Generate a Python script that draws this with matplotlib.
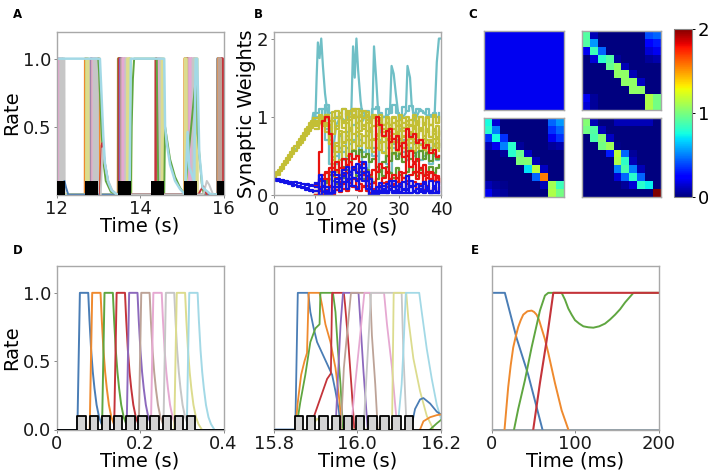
import numpy as np
import matplotlib
matplotlib.use("Agg")
import matplotlib.pyplot as plt

W, H = 708, 476
COLORS = ["#4a7db5", "#ef8a2e", "#5fa640", "#c4343a", "#8c69bd",
          "#bda397", "#e6a9d2", "#c6c6c6", "#dcdc8e", "#a3d9e6"]

# ---- Panel A
A_stim_on = [12.0, 12.68, 13.47, 14.26, 15.05, 15.85]
A_stim_off = [12.2, 13.0, 13.78, 14.58, 15.36, 16.0]
A_pulses = [
    [(15.86, 15.88), (15.92, 15.95)],
    [(12.69, 12.72), (13.0, 13.02), (13.48, 13.51), (15.07, 15.09), (15.87, 15.90)],
    [(12.72, 12.74), (13.49, 13.51), (15.09, 15.11)],
    [(13.50, 13.53), (14.38, 14.40), (15.12, 15.14), (15.95, 15.98)],
    [(12.0, 12.02), (12.82, 12.85), (13.53, 13.55)],
    [(12.03, 12.06), (12.85, 12.88), (13.56, 13.59), (14.44, 14.46), (15.16, 15.19), (15.89, 15.93)],
    [(12.02, 12.05), (12.07, 12.10), (12.87, 12.90), (12.92, 12.95), (13.59, 13.62), (13.64, 13.67),
     (14.46, 14.49), (15.19, 15.22), (15.24, 15.27)],
    [(12.10, 12.13), (12.15, 12.18), (12.90, 12.93), (12.95, 12.98), (13.66, 13.69), (14.49, 14.52),
     (15.27, 15.30), (15.31, 15.34)],
    [(12.72, 12.76), (13.70, 13.73), (13.75, 13.78), (14.53, 14.56), (15.08, 15.11), (15.33, 15.37)],
    [],
]
A_blue_tail_t = [12.0, 12.19, 12.23, 12.28, 16.0]
A_blue_tail_y = [0, 0.1, 0.05, 0, 0]
A_green_t = [13.0, 13.02, 13.04, 13.08, 13.12, 13.18, 13.3, 13.45, 13.78, 13.80, 13.83, 13.86, 14.4, 14.44,
             14.58, 14.60, 14.64, 14.72, 14.84, 14.96, 15.07, 15.35, 15.38, 15.42, 15.48, 15.53]
A_green_y = [1, 0.9, 0.75, 0.45, 0.25, 0.1, 0.02, 0, 0, 0.5, 0.85, 1, 1, 0,
             0, 0.5, 0.42, 0.26, 0.13, 0.05, 0, 0.9, 0.45, 0.3, 0.08, 0]
A_red_t = [13.04, 13.08, 13.10, 13.16, 13.24, 13.32, 13.44, 15.4, 15.45, 15.52, 15.6]
A_red_y = [0, 0.36, 0.38, 0.23, 0.09, 0.03, 0, 0, 0.03, 0.06, 0]
A_grey_t = [13.06, 13.10, 13.16, 13.24, 13.34, 13.46, 15.52, 15.6, 15.66, 15.75]
A_grey_y = [0, 0.34, 0.22, 0.1, 0.03, 0, 0, 0.1, 0.07, 0]
A_cyan_t = [12, 13.04, 13.08, 13.12, 13.16, 13.24, 13.32, 13.44, 13.75, 13.78, 14.38, 14.42, 14.52, 14.58,
            14.60, 14.64, 14.72, 14.84, 14.96, 15.08, 15.14, 15.18, 15.30, 15.33, 15.37, 15.42, 15.5, 15.7, 16]
A_cyan_y = [1, 1, 0.72, 0.43, 0.23, 0.09, 0.03, 0, 0, 1, 1, 1, 1, 1,
            0.5, 0.38, 0.22, 0.1, 0.04, 0, 0.46, 0.2, 0.1, 1, 1, 0.3, 0.05, 0, 0]

# ---- Panel B
B_ramp_t = [0, .5, 1, 1.5, 2, 2.5, 3, 3.5, 4, 4.5, 5, 5.5, 6, 6.5, 7, 7.5, 8, 8.5, 9, 9.5]
B_time_late = [10, 10.8, 11.6, 12.4, 13.2, 14, 14.8, 15.6, 16.4, 17.2, 18, 18.8, 19.6, 20.4, 21.2, 22, 22.8, 23.6,
               24.4, 25.2, 26, 26.8, 27.6, 28.4, 29.2, 30, 30.8, 31.6, 32.4, 33.2, 34, 34.8, 35.6, 36.4, 37.2, 38,
               38.8, 39.6]
B_olive_ramp1 = [.22, .29, .26, .36, .33, .44, .41, .51, .48, .6, .56, .68, .64, .76, .7, .84, .78, .92, .86, .98]
B_olive_ramp2 = [.24, .25, .32, .31, .4, .38, .47, .45, .55, .52, .63, .6, .71, .67, .79, .75, .87, .82, .95, .9]
B_blue_ramp1 = [.2, .18, .19, .165, .175, .15, .16, .135, .145, .12, .13, .1, .115, .085, .1, .07, .085, .055, .07, .04]
B_blue_ramp2 = [.21, .2, .2, .185, .19, .175, .18, .165, .17, .155, .16, .15, .15, .14, .145, .13, .135, .12, .13, .11]
B_teal_main_t = [0, 8.5, 9, 9.5, 10, 10.3, 10.6, 11, 11.4, 11.8, 12.3, 13, 13.6, 14.2, 15, 16, 17, 18, 18.6,
                 19, 19.4, 19.8, 20.2, 20.8, 21.4, 22, 23, 23.6, 24, 24.5, 25, 25.6, 26, 27, 27.8, 28.2,
                 28.7, 29.2, 30, 31, 31.6, 32, 32.6, 33, 33.8, 35, 36, 37, 38, 38.5, 39, 39.5, 40]
B_teal_main_y = [.2, .82, .85, 1.05, .95, 1.5, 1.95, 1.75, 2.0, 1.65, 1.3, 1.0, .85, .55, .9, 1.0, .95, 1.0, 1.1,
                 1.9, 1.5, 2.0, 1.6, 1.2, .95, 1.05, .95, 1.0, 1.9, 1.5, 1.05, .8, 1.0, 1.0, 1.05, 1.65,
                 1.55, 1.3, .95, 1.0, 1.05, 1.65, 1.5, 1.15, .95, 1.1, 1.05, 1.0, 1.0, 1.05, 1.7, 2.0, 2.0]
B_teal = [
    [1.05, 1.1, 1.0, 1.15, 1.05, .95, 1.0, 1.05, 1.1, 1.0, 1.05, 1.1, 1.0, 1.1, 1.05, 1.08, 1.0, 1.1, 1.12, 1.05,
     1.0, 1.1, 1.05, 1.15, 1.05, 1.0, 1.12, 1.08, 1.14, 1.05, 1.1, 1.08, 1.05, 1.1, 1.02, 1.05, 1.0, 1.05],
    [1.0, .95, 1.1, .85, .65, .45, .5, .75, .55, .8, .65, .9, 1.0, .7, .55, .75, .85, .6, .5, .85, .75, .6, .8,
     .65, .7, .85, .7, .6, .75, .65, .7, .65, .6, .7, .6, .65, .6, .65],
    [.9, 1.0, .95, .7, .4, .3, .4, .6, .45, .6, .5, .7, .75, .55, .4, .35, .6, .5, .3, .7, .55, .4, .3, .6, .5,
     .7, .55, .45, .6, .5, .55, .45, .5, .55, .4, .5, .45, .5],
]
B_olive = [
    [.95, 1.0, .92, 1.02, .9, .98, 1.08, 1.0, 1.1, 1.02, 1.08, 1.0, 1.1, 1.02, 1.08, 1.0, .95, 1.0, .9, .98, .9,
     .98, .9, 1.0, .88, .96, .86, .95, .88, .98, .9, 1.0, .92, .98, .9, 1.0, .92, .98],
    [.85, .95, .9, 1.02, .95, 1.06, .98, 1.05, .95, 1.08, 1.0, 1.1, 1.0, 1.08, .98, 1.02, .92, 1.0, .88, .96, .85,
     .92, .84, .92, .8, .9, .82, .9, .8, .88, .78, .86, .76, .84, .74, .82, .72, .8],
    [.0, .0, .02, .05, .2, .45, .62, .55, .8, .7, .85, .78, .92, .82, .9, .75, .82, .7, .78, .68, .8, .7, .75, .68,
     .78, .66, .74, .64, .78, .68, .74, .64, .72, .62, .7, .62, .72, .64],
    [.9, .98, .88, .8, .7, .6, .55, .78, .68, .92, .82, .98, .86, .95, .85, .92, .8, .88, .76, .86, .74, .84, .72,
     .85, .74, .88, .76, .84, .72, .86, .76, .84, .72, .82, .74, .84, .74, .82],
    [.9, .95, 1.0, .9, .85, .78, .88, .98, .86, .96, .86, 1.02, .92, 1.0, .88, .96, .86, .98, .88, 1.02, .9, .98, .86,
     .98, .88, 1.02, .92, 1.0, .9, 1.02, .92, 1.0, .9, 1.0, .9, 1.02, .92, 1.0],
    [.88, .92, .97, .88, .65, .48, .66, .82, .66, .76, .86, .68, .62, .78, .66, .82, .6, .72, .6, .66, .54, .72, .6,
     .68, .56, .72, .6, .7, .58, .72, .6, .7, .58, .7, .58, .72, .6, .7],
    [.92, .98, .9, .98, .75, .4, .3, .45, .62, .5, .7, .58, .8, .62, .75, .6, .7, .55, .72, .58, .68, .5, .66, .52,
     .68, .54, .68, .5, .66, .56, .68, .56, .66, .52, .68, .54, .66, .56],
    [.98, 1.02, .95, .92, .85, .95, .85, 1.0, .92, 1.05, .96, 1.08, 1.0, 1.08, .98, 1.06, .96, 1.02, .95, .92, .84,
     1.0, .9, .78, .94, .82, .98, .86, .96, .84, .94, .82, .92, .8, .9, .78, .88, .78],
]
B_green = [
    [.05, .1, .12, .18, .3, .24, .32, .26, .36, .46, .42, .56, .5, .58, .48, .52, .42, .46, .36, .3, .42, .5, .44,
     .54, .46, .52, .42, .56, .46, .54, .44, .56, .46, .54, .44, .52, .46, .5],
    [.0, .0, .05, .15, .25, .18, .14, .1, .22, .32, .26, .34, .24, .3, .2, .32, .24, .16, .2, .32, .24, .36, .28, .22,
     .34, .26, .22, .3, .36, .28, .24, .32, .26, .3, .36, .28, .34, .38],
]
B_red = [
    [.1, .55, .95, 1.0, .78, .35, .42, .35, .46, .38, .52, .46, .5, .42, .4, .3, .22, .15, 1.0, .9, .76, .82, .68, .72,
     .58, .62, .48, .5, .36, .4, .3, .34, .24, .3, .2, .26, .16, .2],
    [.05, .1, .2, .28, .34, .26, .32, .2, .34, .28, .42, .34, .3, .38, .26, .2, .26, .32, .3, .4, .34, .28, .85, .72,
     .76, .62, .66, .5, .56, .42, .46, .34, .38, .26, .3, .18, .22, .14],
    [.0, .05, .1, .2, .12, .05, .22, .12, .26, .18, .3, .22, .2, .14, .1, .05, .1, .15, .1, .05, .15, .1, .2, .12, .22,
     .15, .28, .85, .74, .78, .66, .7, .6, .64, .54, .58, .48, .5],
    [.0, .05, .0, .06, .12, .0, .06, .16, .08, .05, .15, .2, .1, .05, .12, .22, .14, .08, .05, .1, .22, .3, .2, .26, .16,
     .3, .22, .14, .26, .3, .2, .28, .16, .22, .28, .18, .24, .16],
    [.12, .18, .25, .3, .1, .02, .1, .04, .14, .06, .2, .1, .06, .2, .3, .12, .02, .06, .04, .12, .06, .16, .08, .14, .05,
     .12, .06, .18, .1, .16, .08, .14, .06, .12, .05, .1, .04, .1],
]
B_blue = [
    [.1, .2, .12, .05, .0, .3, .26, .22, .32, .36, .26, .32, .4, .36, .42, .3, .08, .05, .03, .15, .12, .05, .12, .18,
     .06, .1, .16, .08, .18, .12, .14, .08, .16, .1, .18, .12, .16, .1],
    [.15, .08, .04, .02, .0, .1, .2, .14, .24, .16, .3, .22, .18, .34, .28, .18, .0, .0, .05, .1, .05, .14, .08, .05,
     .12, .04, .08, .24, .1, .05, .08, .12, .05, .09, .05, .1, .04, .08],
    [.05, .0, .1, .0, .0, .05, .1, .05, .16, .08, .2, .12, .08, .26, .18, .08, .0, .02, .0, .05, .02, .03, .06, .02,
     .05, .02, .03, .07, .03, .05, .02, .04, .02, .05, .02, .03, .02, .04],
    [.14, .25, .18, .1, .02, .02, .16, .1, .28, .2, .12, .36, .28, .2, .34, .24, .2, .02, .1, .02, .08, .02, .18, .1,
     .02, .14, .06, .02, .12, .04, .02, .06, .14, .06, .02, .08, .04, .02],
]

# ---- Panel C
C_m1 = np.full((10, 10), 0.2)
C_m2 = np.array([
    [.9, .1, 0, 0, 0, 0, 0, 0, .4, .45],
    [.9, .55, 0, 0, 0, 0, 0, 0, .25, .3],
    [.2, .85, .45, 0, 0, 0, 0, 0, .15, .2],
    [0, .15, .8, .9, .05, 0, 0, 0, .05, .08],
    [0, 0, 0, .95, 1.05, .1, 0, 0, 0, 0],
    [0, 0, 0, 0, 1.05, 1.05, .1, 0, 0, 0],
    [0, 0, 0, 0, 0, 1.05, 1.05, .12, 0, 0],
    [0, 0, 0, 0, 0, 0, 1.05, 1.05, 0, 0],
    [.2, .05, 0, 0, 0, 0, 0, 0, 1.12, .98],
    [.15, .05, 0, 0, 0, 0, 0, 0, 1.12, .98]])
C_m3 = np.array([
    [.75, .15, 0, 0, 0, 0, 0, 0, .45, .55],
    [.8, .5, 0, 0, 0, 0, 0, 0, .35, .45],
    [.35, .75, .35, 0, 0, 0, 0, 0, .2, .35],
    [.1, .2, .5, .8, .05, 0, 0, 0, .05, .08],
    [0, 0, .05, .8, .95, .12, 0, 0, 0, 0],
    [0, 0, 0, 0, 1.0, 1.02, .1, 0, 0, 0],
    [0, 0, 0, 0, 0, .7, 1.15, .12, 0, 0],
    [0, 0, 0, 0, 0, 0, .45, 1.55, 0, 0],
    [.1, .05, .03, 0, 0, 0, 0, .1, 1.1, .85],
    [.2, .08, .05, 0, 0, 0, 0, 0, 1.12, .98]])
C_m4 = np.array([
    [1.02, .1, 0, 0, .1, .1, .1, .1, .1, 0],
    [.98, .9, .1, 0, 0, 0, 0, 0, 0, 0],
    [0, .88, 1.02, .12, 0, 0, 0, 0, 0, 0],
    [0, 0, .98, 1.08, .02, 0, 0, 0, 0, 0],
    [0, 0, 0, .3, 1.15, .45, .05, 0, 0, 0],
    [0, 0, 0, 0, 1.12, .82, .1, 0, 0, 0],
    [0, 0, 0, 0, .5, .88, .5, .1, 0, 0],
    [0, 0, 0, 0, .15, .45, .8, .45, 0, 0],
    [0, 0, 0, 0, 0, .05, .15, .8, .72, 0],
    [0, 0, 0, 0, 0, 0, 0, 0, 0, 2.0]])
C_ticks = [0, 1, 2]

# ---- Panel D (left)
D_onsets = [.050, .0795, .109, .138, .168, .197, .226, .256, .282, .312]
D_profile_t = [0, .006, .026, .029, .033, .037, .041, .046, .052, .058, .066]
D_profile_y = [0, 1, 1, .8, .58, .42, .3, .18, .09, .04, 0]
D_stim_on = [.050, .0795, .1085, .138, .167, .196, .225, .254, .283, .312]
D_stim_width = 0.02

# ---- Panel D (right)
D2_traces = [
    ([15.8, 15.852, 15.858, 15.883, 15.888, 15.896, 15.904, 15.916, 15.928, 15.940, 15.948, 15.956, 15.961],
     [0, 0, 1, 1, .86, .74, .64, .56, .48, .40, .28, .14, 0]),
    ([15.852, 15.858, 15.866, 15.874, 15.880, 15.884, 15.910, 15.916, 15.924, 15.936, 15.948, 15.956, 15.964],
     [0, .2, .4, .5, .56, 1, 1, .91, .77, .64, .45, .25, 0]),
    ([15.854, 15.864, 15.876, 15.888, 15.900, 15.910, 15.912, 15.942, 15.948, 15.953, 15.960, 15.966],
     [0, .2, .4, .64, .74, .77, 1, 1, .86, .62, .33, 0]),
    ([15.884, 15.896, 15.912, 15.928, 15.937, 15.940, 15.968, 15.971, 15.979, 15.987, 15.993],
     [0, .09, .23, .37, .41, 1, 1, .91, .62, .28, 0]),
    ([15.948, 15.953, 15.960, 15.966, 16.003, 16.007, 16.015, 16.025],
     [0, .33, .76, 1, 1, .81, .42, 0]),
    ([15.961, 15.968, 15.985, 16.031, 16.035, 16.043, 16.049],
     [0, .45, 1, 1, .69, .33, 0]),
    ([15.985, 15.995, 16.007, 16.017, 16.064, 16.071, 16.083, 16.090, 16.096],
     [0, .33, .69, 1, 1, .77, .45, .2, 0]),
    ([16.015, 16.033, 16.106, 16.110, 16.118],
     [0, 1, 1, .57, 0]),
    ([15.888, 15.904, 15.916, 15.926, 16.083, 16.087, 16.117, 16.122, 16.134, 16.150, 16.166, 16.182],
     [0, .08, .04, 0, 0, 1, 1, .81, .52, .28, .1, 0]),
    ([16.096, 16.106, 16.110, 16.116, 16.148, 16.154, 16.166, 16.178, 16.190, 16.2],
     [0, .33, .57, 1, 1, .86, .59, .37, .18, .08]),
    ([16.128, 16.138, 16.150, 16.158, 16.174, 16.190, 16.2],
     [0, .15, .22, .23, .19, .13, .11]),
    ([16.150, 16.158, 16.174, 16.190, 16.2],
     [0, .06, .09, .105, .11]),
    ([16.174, 16.190, 16.2],
     [0, .045, .07]),
]
D2_color_index = [0, 1, 2, 3, 4, 5, 6, 7, 8, 9, 0, 1, 2]
D2_stim_on = [15.851, 15.880, 15.909, 15.939, 15.968, 15.997, 16.026, 16.055, 16.084, 16.113]

# ---- Panel E
E_blue_t = [0, 16, 30, 44, 61]
E_blue_y = [1, 1, .67, .4, 0]
E_orange_t = [15.6, 18, 20, 23, 26, 29, 32, 35, 38, 43, 48, 51, 54, 57, 60, 64, 68, 76, 84, 92]
E_orange_y = [0, .17, .31, .47, .6, .68, .75, .8, .84, .865, .87, .86, .84, .8, .74, .66, .56, .34, .14, 0]
E_green_t = [27, 32, 40, 48, 58, 64, 68, 84, 88, 92, 96, 100, 105, 110, 116, 122, 129, 136, 142, 148, 154, 160,
             165, 170, 200]
E_green_y = [0, .15, .36, .6, .87, .98, 1, 1, .95, .885, .84, .8, .775, .755, .748, .745, .755, .775, .805, .84,
             .88, .93, .965, 1, 1]
E_red_t = [50, 58, 66, 74, 200]
E_red_y = [0, .34, .65, 1, 1]
E_base_t = [0, 200]
E_base_y = [0, 0]

FS_TICK = 13
FS_LABEL = 14


def make_ax(l, t, r, b):
    ax = fig.add_axes([l / W, 1 - b / H, (r - l) / W, (b - t) / H])
    for s in ax.spines.values():
        s.set_color("#a8a8a8")
        s.set_linewidth(1.0)
    ax.tick_params(labelsize=FS_TICK, length=2, width=0.7, color="#888888", pad=2, labelcolor="#1a1a1a")
    return ax


def stim_curve(ons, width, xmin, xmax):
    xs, ys = [xmin], [0]
    for o in ons:
        xs += [o, o, o + width, o + width]
        ys += [0, .1, .1, 0]
    xs.append(xmax)
    ys.append(0)
    return np.array(xs), np.array(ys)


fig = plt.figure(figsize=(W / 100, H / 100), dpi=100)

# A
ax = make_ax(56.5, 31.5, 223.5, 194.5)
for i, pulses in enumerate(A_pulses):
    ts, ys = [12.0], [0.0]
    for on, off in pulses:
        ts += [on - .004, on, off, off + .006]
        ys += [0, 1, 1, 0]
    ts.append(16.0)
    ys.append(0)
    ax.plot(ts, ys, color=COLORS[i], lw=2.0)
ax.plot(A_blue_tail_t, A_blue_tail_y, color=COLORS[0], lw=1.4)
ax.plot(A_green_t, A_green_y, color=COLORS[2], lw=1.4)
ax.plot(A_red_t, A_red_y, color=COLORS[3], lw=1.4)
ax.plot(A_grey_t, A_grey_y, color=COLORS[7], lw=1.4)
ax.plot(A_cyan_t, A_cyan_y, color=COLORS[9], lw=1.8)
for on, off in zip(A_stim_on, A_stim_off):
    ax.fill_between([on, off], 0, 0.1, color="black", lw=0, zorder=5)
ax.set_xlim(12, 16)
ax.set_ylim(0, 1.2)
ax.set_xticks([12, 14, 16])
ax.set_yticks([0.5, 1.0])
ax.set_yticklabels(["0.5", "1.0"])
ax.set_xlabel("Time (s)", fontsize=FS_LABEL, labelpad=-1)
ax.set_ylabel("Rate", fontsize=FS_LABEL, labelpad=1)

# B
ax = make_ax(273.5, 31.5, 441, 195)
TEAL, OLIVE, GREEN, RED, BLUE = "#6fbfc6", "#c3bf35", "#5f9a30", "#e8120f", "#1212e6"
LW_B = 1.6
ax.plot(B_teal_main_t, B_teal_main_y, color=TEAL, lw=LW_B)
for s in B_teal:
    ax.plot(B_time_late, s, color=TEAL, lw=LW_B, drawstyle="steps-post")
ax.plot(B_ramp_t, B_olive_ramp1, color=OLIVE, lw=LW_B, drawstyle="steps-post")
ax.plot(B_ramp_t, B_olive_ramp2, color=OLIVE, lw=LW_B, drawstyle="steps-post")
for s in B_olive:
    ax.plot(B_time_late, s, color=OLIVE, lw=LW_B, drawstyle="steps-post")
for s in B_green:
    ax.plot(B_time_late, s, color=GREEN, lw=LW_B, drawstyle="steps-post")
for s in B_red:
    ax.plot(B_time_late, s, color=RED, lw=LW_B, drawstyle="steps-post")
ax.plot(B_ramp_t, B_blue_ramp1, color=BLUE, lw=LW_B, drawstyle="steps-post")
ax.plot(B_ramp_t, B_blue_ramp2, color=BLUE, lw=LW_B, drawstyle="steps-post")
for s in B_blue:
    ax.plot(B_time_late, s, color=BLUE, lw=LW_B, drawstyle="steps-post")
ax.set_xlim(0, 40)
ax.set_ylim(0, 2.09)
ax.set_xticks([0, 10, 20, 30, 40])
ax.set_yticks([0, 1, 2])
ax.set_xlabel("Time (s)", fontsize=FS_LABEL, labelpad=-1)
ax.set_ylabel("Synaptic Weights", fontsize=FS_LABEL, labelpad=0)

# C
positions = [(484.5, 31, 563.5, 110), (582, 31, 661, 110), (484.5, 118, 563.5, 197), (582, 118, 661, 197)]
im = None
for m, p in zip([C_m1, C_m2, C_m3, C_m4], positions):
    ax = make_ax(*p)
    im = ax.imshow(m, cmap="jet", vmin=0, vmax=2, aspect="auto", interpolation="nearest")
    ax.set_xticks([])
    ax.set_yticks([])
cax = fig.add_axes([674 / W, 1 - 197 / H, 18 / W, 168.5 / H])
cb = fig.colorbar(im, cax=cax, ticks=C_ticks)
cb.ax.tick_params(labelsize=FS_TICK, length=2, width=0.7, pad=2)
cb.outline.set_edgecolor("#888888")

# D
ax = make_ax(56.5, 265.5, 223.5, 429.5)
ax.plot([0, .4], [0, 0], color=COLORS[0], lw=1.4)
for i, on in enumerate(D_onsets):
    ax.plot([on + t for t in D_profile_t], D_profile_y, color=COLORS[i], lw=1.4)
sx, sy = stim_curve(D_stim_on, D_stim_width, 0, .4)
ax.fill_between(sx, 0, sy, color="#d4d4d4", lw=0, zorder=3)
ax.plot(sx, sy, color="black", lw=1.3, zorder=4)
ax.set_xlim(0, .4)
ax.set_ylim(0, 1.2)
ax.set_xticks([0, .2, .4])
ax.set_xticklabels(["0", "0.2", "0.4"])
ax.set_yticks([0, .5, 1.0])
ax.set_yticklabels(["0.0", "0.5", "1.0"])
ax.set_xlabel("Time (s)", fontsize=FS_LABEL, labelpad=-1)
ax.set_ylabel("Rate", fontsize=FS_LABEL, labelpad=1)

ax = make_ax(273.5, 265.5, 441, 429.5)
for (t, y), c in zip(D2_traces, D2_color_index):
    ax.plot(t, y, color=COLORS[c], lw=1.3)
sx, sy = stim_curve(D2_stim_on, D_stim_width, 15.8, 16.2)
ax.fill_between(sx, 0, sy, color="#d4d4d4", lw=0, zorder=3)
ax.plot(sx, sy, color="black", lw=1.3, zorder=4)
ax.set_xlim(15.8, 16.2)
ax.set_ylim(0, 1.2)
ax.set_xticks([15.8, 16.0, 16.2])
ax.set_xticklabels(["15.8", "16.0", "16.2"])
ax.set_yticks([])
ax.set_xlabel("Time (s)", fontsize=FS_LABEL, labelpad=-1)

# E
ax = make_ax(491.5, 265.5, 658.5, 429.5)
ax.plot(E_base_t, E_base_y, color="#7f8f9a", lw=1.2)
ax.plot(E_blue_t, E_blue_y, color=COLORS[0], lw=1.4)
ax.plot(E_orange_t, E_orange_y, color=COLORS[1], lw=1.4)
ax.plot(E_green_t, E_green_y, color=COLORS[2], lw=1.4)
ax.plot(E_red_t, E_red_y, color=COLORS[3], lw=1.5)
ax.set_xlim(0, 200)
ax.set_ylim(0, 1.2)
ax.set_xticks([0, 100, 200])
ax.set_yticks([])
ax.set_xlabel("Time (ms)", fontsize=FS_LABEL, labelpad=-1)

for lab, px, py in [("A", 13, 15), ("B", 254, 15), ("C", 468, 15), ("D", 13, 250), ("E", 471, 250)]:
    fig.text(px / W, 1 - py / H, lab, fontsize=8.5, fontweight="bold", family="DejaVu Sans", va="center")

fig.savefig("out.png", dpi=100)
